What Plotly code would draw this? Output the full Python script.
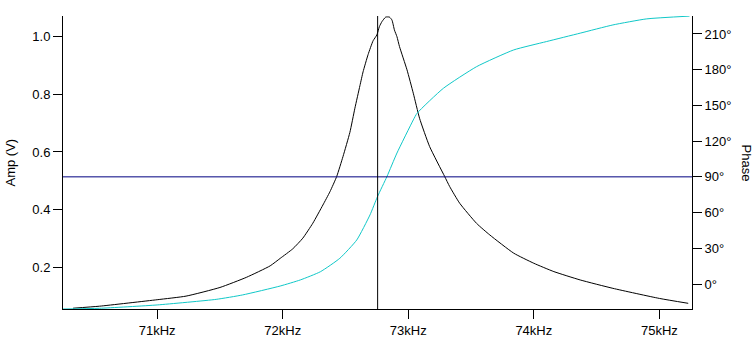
import plotly.graph_objects as go

# Amplitude response (kHz, V)
amp_freq_khz = [70.33, 70.54, 71.00, 71.23, 71.50, 71.71, 71.90, 71.98, 72.08, 72.16,
                72.24, 72.32, 72.376, 72.43, 72.48, 72.535, 72.575, 72.615, 72.64, 72.68,
                72.72, 72.75, 72.77, 72.79, 72.82, 72.85, 72.87, 72.89, 72.91, 72.93,
                72.99, 73.04, 73.09, 73.17, 73.29, 73.33, 73.41, 73.545, 73.65, 73.84,
                74.00, 74.16, 74.37, 74.63, 75.00, 75.23]
amp_volts = [0.058, 0.065, 0.0875, 0.100, 0.130, 0.165, 0.205, 0.231, 0.264, 0.301,
             0.353, 0.416, 0.462, 0.515, 0.584, 0.668, 0.752, 0.830, 0.878, 0.938,
             0.986, 1.006, 1.035, 1.052, 1.068, 1.068, 1.058, 1.023, 1.000, 0.966,
             0.885, 0.804, 0.717, 0.619, 0.515, 0.480, 0.422, 0.352, 0.312, 0.249,
             0.214, 0.185, 0.156, 0.127, 0.092, 0.075]

# Phase response (kHz, degrees)
phase_freq_khz = [70.25, 70.54, 71.00, 71.47, 71.68, 71.98, 72.14, 72.30, 72.455, 72.59,
                  72.695, 72.755, 72.83, 72.91, 73.04, 73.07, 73.28, 73.545, 73.84, 74.10,
                  74.37, 74.63, 74.90, 75.24]
phase_deg = [-21.0, -20.4, -17.6, -12.9, -9.2, -1.7, 3.4, 10.3, 21.6, 37.0,
             58.0, 73.4, 90.2, 110.0, 137.8, 143.4, 164.4, 182.6, 196.6, 203.6,
             210.7, 217.6, 222.7, 225.0]

# Cursor positions
cursor_freq_khz = 72.756
cursor_phase_deg = 90

x_ticks = [71, 72, 73, 74, 75]
x_tick_labels = ["71kHz", "72kHz", "73kHz", "74kHz", "75kHz"]
amp_ticks = [0.2, 0.4, 0.6, 0.8, 1.0]
amp_tick_labels = ["0.2", "0.4", "0.6", "0.8", "1.0"]
phase_ticks = [0, 30, 60, 90, 120, 150, 180, 210]
phase_tick_labels = ["0°", "30°", "60°", "90°", "120°", "150°", "180°", "210°"]

font = dict(family="Arial, Liberation Sans, sans-serif", size=13, color="black")

fig = go.Figure()
fig.add_trace(go.Scatter(x=amp_freq_khz, y=amp_volts, mode="lines",
                         line=dict(color="black", width=1, shape="spline", smoothing=0.5),
                         yaxis="y", name="Amp", showlegend=False))
fig.add_trace(go.Scatter(x=phase_freq_khz, y=phase_deg, mode="lines",
                         line=dict(color="#10C8C8", width=1, shape="spline", smoothing=0.5),
                         yaxis="y2", name="Phase", showlegend=False))

fig.add_shape(type="line", xref="paper", yref="y2", x0=0, x1=1,
              y0=cursor_phase_deg, y1=cursor_phase_deg,
              line=dict(color="#000080", width=1))
fig.add_shape(type="line", xref="x", yref="paper", x0=cursor_freq_khz, x1=cursor_freq_khz,
              y0=0, y1=1, line=dict(color="black", width=1))

axis_common = dict(showgrid=False, zeroline=False, showline=True, linecolor="black",
                   linewidth=1, ticks="outside", ticklen=9, tickcolor="black", tickfont=font)

fig.update_layout(
    width=756, height=360,
    margin=dict(l=63, r=64, t=16, b=51),
    paper_bgcolor="white", plot_bgcolor="white",
    font=font,
    xaxis=dict(range=[70.25, 75.26], tickmode="array", tickvals=x_ticks,
               ticktext=x_tick_labels, **axis_common),
    yaxis=dict(range=[0.0553, 1.0718], tickmode="array", tickvals=amp_ticks,
               ticktext=amp_tick_labels, **axis_common),
    yaxis2=dict(range=[-21.0, 225.1], tickmode="array", tickvals=phase_ticks,
                ticktext=phase_tick_labels, overlaying="y", side="right", **axis_common),
    annotations=[
        dict(text="Amp (V)", xref="paper", yref="paper", x=(10 - 63) / 629, y=0.5,
             textangle=-90, showarrow=False, font=font, xanchor="center", yanchor="middle"),
        dict(text="Phase", xref="paper", yref="paper", x=(746 - 63) / 629, y=0.5,
             textangle=90, showarrow=False, font=font, xanchor="center", yanchor="middle"),
    ],
)

fig.write_html("out.html")
